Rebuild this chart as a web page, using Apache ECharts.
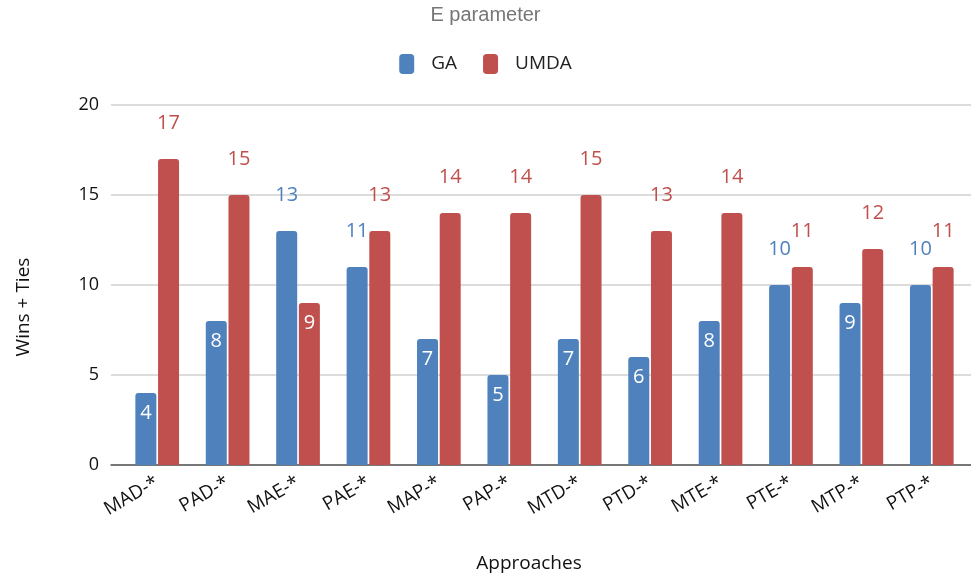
<!DOCTYPE html>
<html>
<head>
<meta charset="utf-8">
<script src="https://cdn.jsdelivr.net/npm/echarts@6/dist/echarts.min.js"></script>
<style>
  html, body { margin: 0; padding: 0; background: #fff; }
  #chart { width: 971px; height: 582px; }
</style>
</head>
<body>
<div id="chart"></div>
<script>
const categories = ['MAD-*', 'PAD-*', 'MAE-*', 'PAE-*', 'MAP-*', 'PAP-*', 'MTD-*', 'PTD-*', 'MTE-*', 'PTE-*', 'MTP-*', 'PTP-*'];
const gaValues = [4, 8, 13, 11, 7, 5, 7, 6, 8, 10, 9, 10];
const umdaValues = [17, 15, 9, 13, 14, 14, 15, 13, 14, 11, 12, 11];
const yMin = 0, yMax = 20, yStep = 5;

const BLUE = '#4F81BD';
const RED = '#C0504D';
const FONT = '"Open Sans", "Noto Sans", sans-serif';

const myChart = echarts.init(document.getElementById('chart'));

// small values get a white label inside the bar, the rest sit above it
function withLabels(values, color) {
    return values.map(v => ({
        value: v,
        label: v < 10
            ? { position: 'insideTop', distance: 10, color: '#fff' }
            : { position: 'top', distance: 26, color: color }
    }));
}

const plotTop = 105, plotBottom = 117;

const option = {
    backgroundColor: '#fff',
    title: {
        text: 'E parameter',
        left: 'center',
        top: 0,
        textStyle: { color: '#767676', fontSize: 20, fontWeight: 'normal', fontFamily: '"Liberation Sans", Arial, sans-serif' }
    },
    legend: {
        top: 49,
        left: 'center',
        itemWidth: 15,
        itemHeight: 20,
        itemGap: 26,
        icon: 'roundRect',
        textStyle: { color: '#222', fontSize: 19, fontFamily: FONT, padding: [0, 0, 0, 12] },
        data: ['GA', 'UMDA']
    },
    grid: [
        { left: 122, right: 4, top: plotTop, bottom: plotBottom },
        { left: 111, right: 0, top: plotTop, bottom: plotBottom }
    ],
    xAxis: [
        {
            gridIndex: 0,
            type: 'category',
            data: categories,
            axisLine: { show: false },
            axisTick: { show: false },
            axisLabel: { rotate: 30, margin: 16, color: '#111', fontSize: 19, fontFamily: FONT }
        },
        {
            gridIndex: 1,
            type: 'category',
            data: categories,
            axisLine: { show: true, lineStyle: { color: '#555', width: 1.5 } },
            axisTick: { show: false },
            axisLabel: { show: false }
        }
    ],
    yAxis: [
        {
            gridIndex: 0,
            type: 'value',
            min: yMin, max: yMax, interval: yStep,
            show: false
        },
        {
            gridIndex: 1,
            type: 'value',
            min: yMin, max: yMax, interval: yStep,
            axisLine: { show: false },
            axisTick: { show: false },
            axisLabel: { color: '#111', fontSize: 18, margin: 12, fontFamily: FONT },
            splitLine: { lineStyle: { color: '#D0D0D0', width: 1.5 } }
        }
    ],
    graphic: [
        {
            type: 'text',
            x: 24, y: 307,
            rotation: Math.PI / 2,
            style: { text: 'Wins + Ties', fill: '#111', fontSize: 19, fontFamily: FONT, align: 'center', verticalAlign: 'middle' }
        },
        {
            type: 'text',
            x: 529, y: 564,
            style: { text: 'Approaches', fill: '#111', fontSize: 19, fontFamily: FONT, align: 'center', verticalAlign: 'middle' }
        }
    ],
    series: [
        {
            name: 'GA',
            type: 'bar',
            xAxisIndex: 0, yAxisIndex: 0,
            data: withLabels(gaValues, BLUE),
            barWidth: 21,
            barGap: '8%',
            itemStyle: { color: BLUE, borderRadius: [3, 3, 0, 0] },
            label: { show: true, fontSize: 20, fontFamily: FONT }
        },
        {
            name: 'UMDA',
            type: 'bar',
            xAxisIndex: 0, yAxisIndex: 0,
            data: withLabels(umdaValues, RED),
            barWidth: 21,
            barGap: '8%',
            itemStyle: { color: RED, borderRadius: [3, 3, 0, 0] },
            label: { show: true, fontSize: 20, fontFamily: FONT }
        }
    ]
};

myChart.setOption(option);
</script>
</body>
</html>
